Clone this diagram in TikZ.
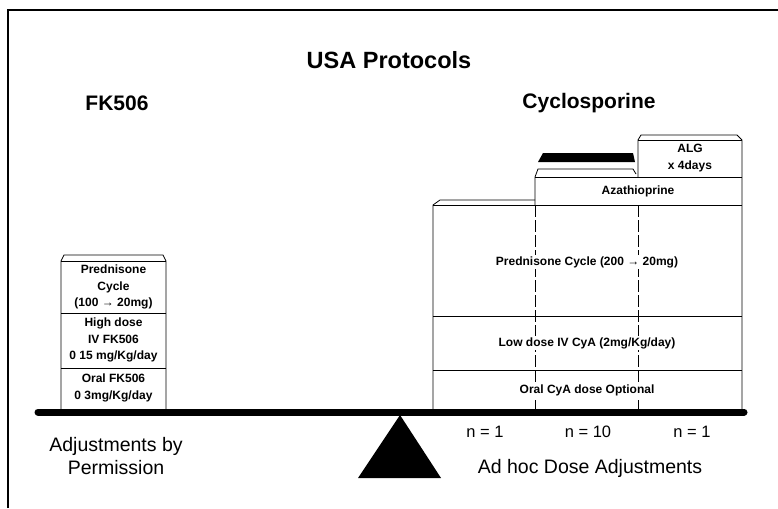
\documentclass[tikz,border=0pt]{standalone}
\usepackage{fontspec}
\setmainfont{Liberation Sans}
\tikzset{
  layer/.style={align=center,fill=white,inner sep=1pt,font=\fontsize{12}{16.5}\selectfont\bfseries},
  head/.style={font=\fontsize{21}{25}\selectfont\bfseries},
  note/.style={align=center,font=\fontsize{19.5}{23}\selectfont},
  count/.style={font=\fontsize{16.5}{18}\selectfont},
}
\begin{document}
\begin{tikzpicture}[x=1pt,y=-1pt]
    \useasboundingbox (0,0) rectangle (778,508);
    \draw[line width=1.5pt] (8,508)--(8,10)--(778,10);
    \node[head,font=\fontsize{23.5}{27}\selectfont\bfseries] (title) at (389,60) {USA Protocols};
    \node[head] (fk) at (117,103) {FK506};
    \node[head] (cya) at (589,103) {Cyclosporine};
    % FK506 stack
    \draw[thick] (61,409)--(61,261)--(64,255)--(163,255)--(166,261)--(166,409);
    \draw[thick] (61,261)--(166,261);
    \draw[thick] (61,313)--(166,313);
    \draw[thick] (61,368)--(166,368);
    \node[layer] (fkpred) at (113.5,287) {Prednisone\\Cycle\\(100 → 20mg)};
    \node[layer] (fkiv) at (113.5,340) {High dose\\IV FK506\\0 15 mg/Kg/day};
    \node[layer] (fkoral) at (113.5,388) {Oral FK506\\0 3mg/Kg/day};
    % Cyclosporine stack
    \draw[thick] (433,409)--(433,205)--(440,200)--(535,200);
    \draw[thick] (433,205)--(742,205);
    \draw[thick] (535,205)--(535,177)--(538,169)--(633,169)--(636,174);
    \fill (538,162)--(543,153)--(633,153)--(635,162)--cycle;
    \draw[thick] (638,177)--(638,140)--(641,135)--(737,135)--(742,140)--(742,409);
    \draw[thick] (638,140)--(742,140);
    \draw[thick] (535,177)--(742,177);
    \draw[thick] (433,316)--(742,316);
    \draw[thick] (433,370)--(742,370);
    \draw[thick,dash pattern=on 12pt off 3pt] (535,205)--(535,409);
    \draw[thick,dash pattern=on 12pt off 3pt] (638,205)--(638,409);
    \node[layer] (alg) at (690,158) {ALG\\x 4days};
    \node[layer] (aza) at (638,191) {Azathioprine};
    \node[layer] (cypred) at (587,262) {Prednisone Cycle (200 → 20mg)};
    \node[layer] (cyiv) at (587,343) {Low dose IV CyA (2mg/Kg/day)};
    \node[layer] (cyoral) at (587,390) {Oral CyA dose Optional};
    % balance
    \draw[line width=7pt,line cap=round] (38,412)--(744,412);
    \fill (400,415)--(441,478)--(358,478)--cycle;
    \node[count] (n1) at (485,432) {n = 1};
    \node[count] (n2) at (588,432) {n = 10};
    \node[count] (n3) at (692,432) {n = 1};
    \node[note] (perm) at (116,456) {Adjustments by\\Permission};
    \node[note] (adhoc) at (590,468) {Ad hoc Dose Adjustments};
\end{tikzpicture}
\end{document}
